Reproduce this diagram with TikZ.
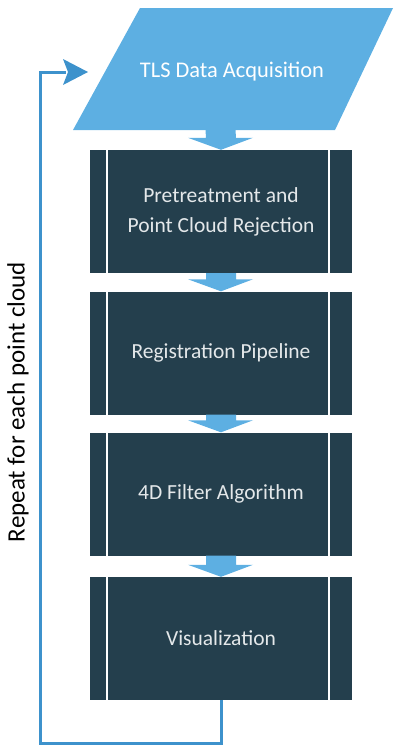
\documentclass[tikz,border=0pt]{standalone}
\usepackage{fontspec}
\setmainfont{Carlito}
\definecolor{skyblue}{HTML}{5DAFE2}
\definecolor{loopblue}{HTML}{3D92CC}
\definecolor{darkbox}{HTML}{243F4D}
\definecolor{boxtext}{HTML}{E4E8EA}
\begin{document}
\begin{tikzpicture}[x=1pt,y=-1pt,
  stagebox/.style={draw=none, fill=darkbox, minimum width=262pt, minimum height=123pt,
    text=boxtext, font=\fontsize{21.5}{30}\selectfont, align=center, inner sep=0pt,
    path picture={
      \draw[white, line width=2pt] ([xshift=17pt]path picture bounding box.north west) -- ([xshift=17pt]path picture bounding box.south west);
      \draw[white, line width=2pt] ([xshift=-23.5pt]path picture bounding box.north east) -- ([xshift=-23.5pt]path picture bounding box.south east);
    }},
  looparrow/.style={draw=loopblue, line width=3pt},
]
\useasboundingbox (0,0) rectangle (396,748);

% parallelogram
\fill[skyblue] (140,8) -- (393,8) -- (335,130) -- (73,130) -- cycle;
\node[text=white, font=\fontsize{22.4}{26}\selectfont] (tls) at (232,72) {TLS Data Acquisition};
\coordinate (pbot) at (220.5,130);

\node[stagebox] (b1) at (221,211.5) {Pretreatment and\\Point Cloud Rejection};
\node[stagebox] (b2) at (221,353) {Registration Pipeline};
\node[stagebox] (b3) at (221,494) {4D Filter Algorithm};
\node[stagebox] (b4) at (221,638.5) {Visualization};

% block arrows
\newcommand{\blockarr}[2]{%
  \fill[skyblue] ([xshift=-15pt]#1) -- ([xshift=15pt]#1) -- ([xshift=15pt,yshift=12pt]#2) -- ([xshift=32pt,yshift=12pt]#2) -- (#2) -- ([xshift=-33pt,yshift=12pt]#2) -- ([xshift=-15pt,yshift=12pt]#2) -- cycle;}
\blockarr{pbot}{b1.north}
\blockarr{b1.south}{b2.north}
\blockarr{b2.south}{b3.north}
\blockarr{b3.south}{b4.north}

% loop
\coordinate (tip) at (88,72);
\draw[looparrow, line join=miter] (b4.south) -- ++(0,43) -| (40,72) -- (66,72);
\fill[loopblue] (tip) -- (63,59) -- (68,72) -- (63,85) -- cycle;

\node[rotate=90, font=\fontsize{25}{28}\selectfont] (rep) at (18,402) {Repeat for each point cloud};
\end{tikzpicture}
\end{document}
